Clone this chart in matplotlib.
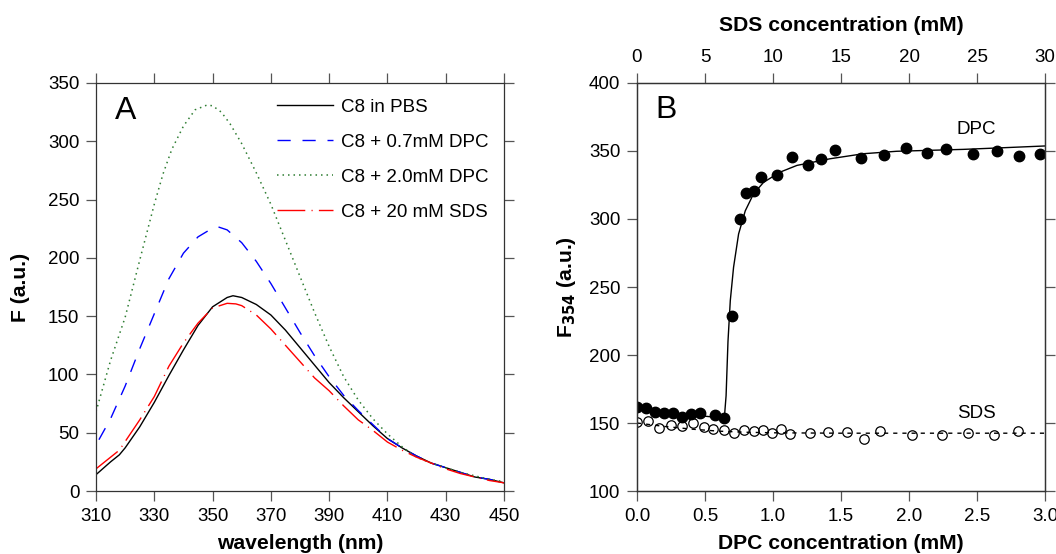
import matplotlib
matplotlib.use('Agg')
import matplotlib.pyplot as plt

plt.rcParams['font.family'] = ['Liberation Sans', 'DejaVu Sans']

# panel A: emission spectra
wl_pbs = [310, 315, 318, 320, 325, 330, 335, 340, 345, 350, 355, 357, 360, 365, 370, 375, 380, 385,
          390, 395, 400, 405, 410, 415, 420, 425, 430, 435, 440, 445, 450]
f_pbs = [14, 25, 31, 37, 55, 76, 99, 121, 142, 158, 166, 167.5, 166, 160, 151, 138, 123, 108,
         93, 80, 68, 56, 45, 37, 30, 24, 20, 16, 12, 10, 7]

wl_dpc07 = [311, 315, 320, 325, 330, 335, 340, 345, 350, 352, 355, 360, 365, 370, 375, 380, 385,
            390, 395, 400, 405, 410, 415, 420, 425, 430, 435, 440, 445, 450]
f_dpc07 = [44, 62, 90, 122, 152, 182, 204, 218, 225.5, 226.5, 224, 213, 197, 178, 157, 136, 116,
           98, 82, 69, 57, 45, 37, 30, 24, 20, 16, 12, 10, 7]

wl_dpc20 = [310, 315, 320, 325, 330, 333, 336, 340, 344, 348, 350, 353, 356, 360, 365, 370, 375,
            380, 385, 390, 395, 400, 405, 410, 415, 420, 425, 430, 435, 440, 445, 450]
f_dpc20 = [68, 112, 149, 198, 246, 272, 293, 313, 327, 331, 330.5, 325, 315, 298, 273, 246, 215,
           184, 153, 124, 98, 78, 62, 49, 38, 29, 24, 20, 16, 13, 10, 8]

wl_sds = [310, 315, 318, 325, 330, 335, 340, 345, 350, 355, 358, 360, 365, 370, 375, 380, 385,
          390, 395, 400, 405, 410, 415, 420, 425, 430, 435, 440, 445, 450]
f_sds = [19, 29, 35, 61, 81, 107, 127, 144, 157, 161, 160.5, 159, 151, 139, 125, 111, 97,
         86, 73, 61, 52, 42, 35, 29, 24, 19, 15, 12, 9, 7]

# panel B: titration
dpc_conc = [0.0, 0.064, 0.133, 0.2, 0.267, 0.333, 0.395, 0.46, 0.575, 0.637, 0.696, 0.756, 0.805,
            0.862, 0.914, 1.032, 1.143, 1.254, 1.356, 1.457, 1.644, 1.817, 1.98, 2.131, 2.274,
            2.469, 2.644, 2.812, 2.96]
dpc_f = [161.5, 161, 158, 157, 157, 154.5, 156.5, 157, 156, 154, 228.4, 300.2, 318.9,
         320.5, 331, 332.3, 345.3, 340, 344, 351, 345, 347, 352.3, 348.4, 351.3,
         347.9, 349.7, 346.6, 348.1]
dpc_fit_x = [0.0, 0.2, 0.4, 0.55, 0.642, 0.655, 0.669, 0.686, 0.71, 0.747, 0.796, 0.857, 0.931,
             1.053, 1.176, 1.42, 1.665, 1.91, 2.155, 2.4, 2.645, 3.0]
dpc_fit_y = [160, 158, 156, 154.5, 153.5, 170, 210, 240, 264.5, 289, 306, 318.5, 327,
             334.5, 339.4, 344.3, 348, 349.8, 350.5, 351.2, 352.2, 353.7]

sds_conc = [0, 0.79, 1.65, 2.49, 3.31, 4.12, 4.89, 5.6, 6.37, 7.14, 7.85, 8.57, 9.26, 9.93,
            10.62, 11.26, 12.72, 14.05, 15.41, 16.72, 17.9, 20.25, 22.4, 24.37, 26.25, 28.02]
sds_f = [150.6, 151.4, 146.2, 148.8, 147.7, 150.1, 147, 145.4, 144.9, 142.5, 145.1, 144.1, 144.6,
         142.5, 145.4, 141.8, 142.3, 143.3, 143.3, 138.4, 143.9, 141, 141.5, 142.5, 141.5, 144.1]
sds_fit_x = [0, 2, 4, 6, 8, 10, 15, 30]
sds_fit_y = [150, 147.5, 145.5, 144, 143.2, 142.8, 142.5, 142.5]

fs = 13.5
lfs = 15.2

fig = plt.figure(figsize=(10.56, 5.54), dpi=100)
axA = fig.add_axes([96 / 1056, 63 / 554, 408 / 1056, 408 / 554])
axB = fig.add_axes([637 / 1056, 63 / 554, 408 / 1056, 408 / 554])

axA.plot(wl_pbs, f_pbs, color='black', lw=1.0, label='C8 in PBS')
axA.plot(wl_dpc07, f_dpc07, color='blue', lw=1.0, dashes=(9.5, 8.5), label='C8 + 0.7mM DPC')
axA.plot(wl_dpc20, f_dpc20, color='#2e7d32', lw=1.1, dashes=(1, 2.6), label='C8 + 2.0mM DPC')
axA.plot(wl_sds, f_sds, color='red', lw=1.0, dashes=(20, 4.5, 0.8, 4.5), label='C8 + 20 mM SDS')

axA.set_xlim(310, 450)
axA.set_ylim(0, 350)
axA.set_xticks(range(310, 451, 20))
axA.set_yticks(range(0, 351, 50))
axA.set_xlabel('wavelength (nm)', fontsize=lfs, fontweight='bold', labelpad=7)
axA.set_ylabel('F (a.u.)', fontsize=lfs, fontweight='bold', labelpad=13)
axA.text(320.3, 326, 'A', fontsize=23, ha='center', va='center')
axA.legend(loc='upper right', frameon=False, fontsize=fs, handlelength=3.0, handletextpad=0.4,
           labelspacing=0.95, borderaxespad=0.45, borderpad=0.4)

axB.plot(dpc_fit_x, dpc_fit_y, color='black', lw=1.0)
axB.plot(dpc_conc, dpc_f, 'o', color='black', ms=7.5)
axB.set_xlim(0, 3.0)
axB.set_ylim(100, 400)
axB.set_xticks([0.0, 0.5, 1.0, 1.5, 2.0, 2.5, 3.0])
axB.set_xticklabels(['0.0', '0.5', '1.0', '1.5', '2.0', '2.5', '3.0'])
axB.set_yticks(range(100, 401, 50))
axB.set_xlabel('DPC concentration (mM)', fontsize=lfs, fontweight='bold', labelpad=7)
axB.set_ylabel('F$_{\\mathbf{354}}$ (a.u.)', fontsize=lfs, fontweight='bold', labelpad=8)
axB.text(0.217, 380, 'B', fontsize=23, ha='center', va='center')
axB.text(2.494, 365.8, 'DPC', fontsize=fs, ha='center', va='center')
axB.text(2.494, 157, 'SDS', fontsize=fs, ha='center', va='center')

axT = axB.twiny()
axT.plot(sds_fit_x, sds_fit_y, color='black', lw=1.0, dashes=(3, 3.6))
axT.plot(sds_conc, sds_f, 'o', mfc='none', mec='black', mew=0.9, ms=6.8)
axT.set_xlim(0, 30)
axT.set_xticks(range(0, 31, 5))
axT.set_xlabel('SDS concentration (mM)', fontsize=lfs, fontweight='bold', labelpad=13)

for ax in (axA, axB):
    ax.tick_params(direction='out', length=7, width=0.9, pad=5, labelsize=fs,
                   top=(ax is axA), right=True, color='#555555')
    for s in ax.spines.values():
        s.set_linewidth(0.9)
        s.set_color('#333333')
axT.tick_params(direction='out', length=7, width=0.9, pad=5, labelsize=fs, color='#555555')
axB.tick_params(axis='x', top=False)
for s in axT.spines.values():
    s.set_linewidth(0.9)
    s.set_color('#333333')

fig.savefig('out.png', dpi=100)
